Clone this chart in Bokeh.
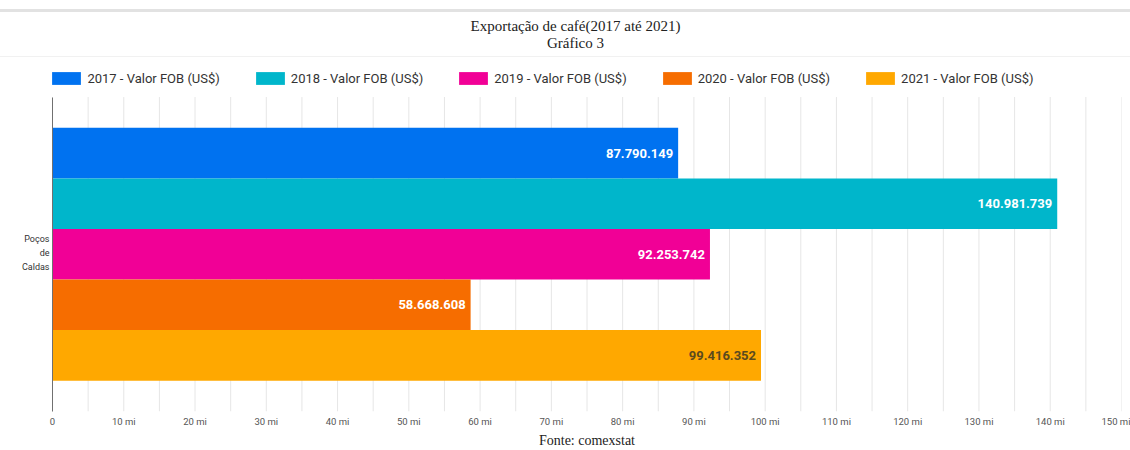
from bokeh.plotting import figure
from bokeh.models import (ColumnDataSource, Range1d, FixedTicker, Legend, LegendItem,
                          Label, LinearAxis)
from bokeh.transform import dodge
from bokeh.core.properties import value
from bokeh.embed import file_html
from bokeh.resources import INLINE

# ---- data ----
city = "Poços de Caldas"
years = ["2017", "2018", "2019", "2020", "2021"]
series_names = ["2017 - Valor FOB (US$)", "2018 - Valor FOB (US$)", "2019 - Valor FOB (US$)",
                "2020 - Valor FOB (US$)", "2021 - Valor FOB (US$)"]
values = [87790149, 140981739, 92253742, 58668608, 99416352]
value_labels = ["87.790.149", "140.981.739", "92.253.742", "58.668.608", "99.416.352"]
colors = ["#0072f0", "#00b6cb", "#f10096", "#f66d00", "#ffa800"]
label_colors = ["#ffffff", "#ffffff", "#ffffff", "#ffffff", "#5b4a1e"]
tick_values = [i * 10_000_000 for i in range(16)]
tick_labels = ["0"] + [f"{i * 10} mi" for i in range(1, 16)]
minor_tick_values = [i * 10_000_000 + 5_000_000 for i in range(15)]
title_text = "Exportação de café(2017 até 2021)"
subtitle_text = "Gráfico 3"
source_text = "Fonte: comexstat"

# ---- layout constants (pixels) ----
W, H = 1130, 450
BAND_TOP, BAND_BOTTOM = 97, 413          # category band inside the frame
BAND_PX = BAND_BOTTOM - BAND_TOP
categories = [city]

p = figure(width=W, height=H, output_backend="svg", toolbar_location=None,
           y_range=Range1d(0, len(categories) * BAND_BOTTOM / BAND_PX),
           x_range=Range1d(0, 150_000_000), y_axis_location=None,
           min_border_left=52, min_border_right=9, min_border_top=0, min_border_bottom=H - BAND_BOTTOM,
           title=None)
p.outline_line_color = None
p.background_fill_color = None
p.border_fill_color = None
p.styles = {"background": "linear-gradient(to bottom, #ffffff 0px, #ffffff 9px, #e2e2e2 9px, "
                          "#e2e2e2 12px, #ffffff 12px, #ffffff 56px, #f1f1f1 56px, #f1f1f1 57px, "
                          "#ffffff 57px, #ffffff 100%)"}
p.xgrid.grid_line_color = None
p.ygrid.grid_line_color = None

# vertical grid lines, limited to the category band
grid_x = sorted(tick_values + minor_tick_values)
p.segment(x0=grid_x, x1=grid_x, y0=[0] * len(grid_x), y1=[len(categories)] * len(grid_x),
          line_color="#e6e6e6", line_width=1)

bar_h = 0.1608
renderers = []
cat_center = len(categories) - 0.5  # centre of the single category band
for i, (yr, v, lab, c, lc) in enumerate(zip(years, values, value_labels, colors, label_colors)):
    off = (2 - i) * bar_h
    src = ColumnDataSource(dict(y=[cat_center], x=[v], label=[lab]))
    r = p.hbar(y=dodge("y", off), right="x", left=0, height=bar_h,
               source=src, fill_color=c, line_color=None)
    renderers.append(r)
    p.text(x="x", y=dodge("y", off), text="label", source=src,
           x_offset=-5, text_align="right", text_baseline="middle",
           text_font=value("Roboto"), text_font_style="bold", text_font_size="13px",
           text_color=lc)

# x axis (below) with the source note as its label
p.xaxis.ticker = FixedTicker(ticks=tick_values, minor_ticks=minor_tick_values)
p.xaxis.major_label_overrides = {t: l for t, l in zip(tick_values, tick_labels)}
p.xaxis.axis_line_color = None
p.xaxis.major_tick_line_color = None
p.xaxis.minor_tick_line_color = None
p.xaxis.major_tick_out = 0
p.xaxis.major_tick_in = 0
p.xaxis.minor_tick_out = 0
p.xaxis.minor_tick_in = 0
p.xaxis.major_label_text_font = "Roboto"
p.xaxis.major_label_text_font_size = "9.5px"
p.xaxis.major_label_text_color = "#555555"
p.xaxis.major_label_standoff = 4
p.xaxis.axis_label = source_text
p.xaxis.axis_label_text_font = "Liberation Serif"
p.xaxis.axis_label_text_font_size = "14px"
p.xaxis.axis_label_text_font_style = "normal"
p.xaxis.axis_label_text_color = "#222222"
p.xaxis.axis_label_standoff = 3

# y axis: category name wrapped on three lines, centred on the category
words = city.split(" ")
line_gap = 14 / BAND_PX
mid = cat_center + 1 / BAND_PX
pos = [mid + line_gap * (1 - k) for k in range(len(words))]
yax = LinearAxis(ticker=FixedTicker(ticks=pos), bounds=(0, len(categories)),
                 major_label_overrides={pp: w for pp, w in zip(pos, words)})
yax.axis_line_color = "#707070"
yax.major_tick_line_color = None
yax.minor_tick_line_color = None
yax.major_tick_out = 0
yax.major_tick_in = 0
yax.minor_tick_out = 0
yax.minor_tick_in = 0
yax.major_label_text_font = "Roboto"
yax.major_label_text_font_size = "9px"
yax.major_label_text_color = "#333333"
yax.major_label_standoff = 3
p.add_layout(yax, "left")

# legend (inside the frame, above the band); location gives the legend's bottom-left corner
legend = Legend(items=[LegendItem(label=n, renderers=[r]) for n, r in zip(series_names, renderers)],
                orientation="horizontal", location=(-3.6, BAND_BOTTOM - 88.4), padding=0, margin=0,
                spacing=32, glyph_width=36, glyph_height=16, label_standoff=3, label_height=16,
                label_text_font="Roboto", label_text_font_size="13px", label_text_color="#333333",
                border_line_color=None, background_fill_alpha=0)
p.add_layout(legend, "center")

# titles
cx = 575 - 52
p.add_layout(Label(x=cx, y=BAND_BOTTOM - 27, x_units="screen", y_units="screen", text=title_text,
                   text_align="center", text_baseline="middle", text_font="Liberation Serif",
                   text_font_size="15px", text_color="#222222"))
p.add_layout(Label(x=cx, y=BAND_BOTTOM - 44, x_units="screen", y_units="screen", text=subtitle_text,
                   text_align="center", text_baseline="middle", text_font="Liberation Serif",
                   text_font_size="15px", text_color="#222222"))

open("out.html", "w").write(file_html(p, INLINE))
